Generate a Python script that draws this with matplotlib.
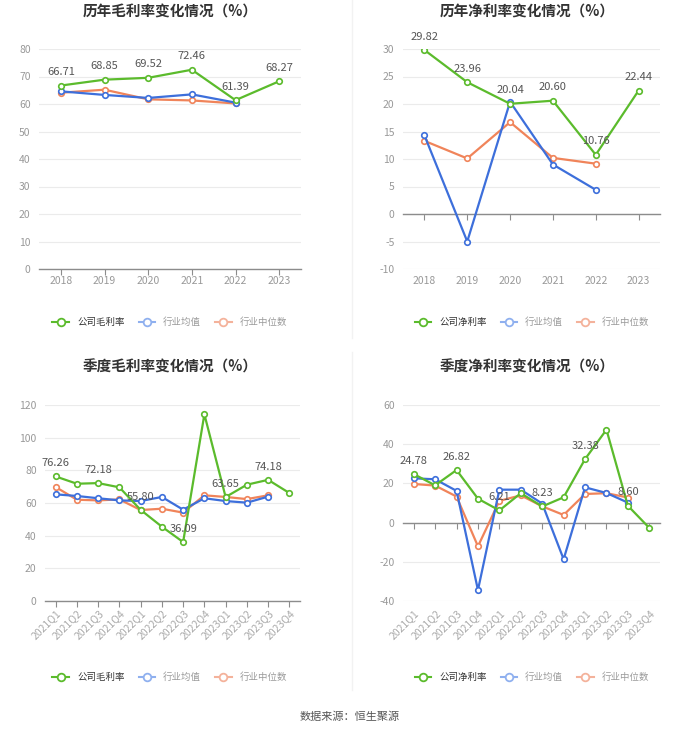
import matplotlib
matplotlib.use("Agg")
import matplotlib.pyplot as plt
from matplotlib.lines import Line2D

plt.rcParams['font.family'] = ['Noto Sans CJK SC', 'DejaVu Sans']

years = ['2018', '2019', '2020', '2021', '2022', '2023']
quarters = ['2021Q1', '2021Q2', '2021Q3', '2021Q4', '2022Q1', '2022Q2', '2022Q3',
            '2022Q4', '2023Q1', '2023Q2', '2023Q3', '2023Q4']

# Annual gross margin
gm_company = [66.71, 68.85, 69.52, 72.46, 61.39, 68.27]
gm_mean = [64.6, 63.3, 62.2, 63.5, 60.5]
gm_median = [64.1, 65.2, 61.7, 61.3, 60.2]

# Annual net margin
nm_company = [29.82, 23.96, 20.04, 20.60, 10.76, 22.44]
nm_mean = [14.3, -5.0, 20.4, 9.0, 4.4]
nm_median = [13.3, 10.1, 16.7, 10.2, 9.15]

# Quarterly gross margin
qgm_company = [76.26, 71.8, 72.18, 69.6, 55.80, 45.5, 36.09, 114.3, 63.65, 71.2, 74.18, 66.1]
qgm_mean = [65.3, 64.3, 62.9, 61.6, 61.2, 63.7, 55.9, 62.9, 61.2, 60.2, 63.9]
qgm_median = [69.8, 62.0, 61.6, 62.2, 55.7, 56.5, 54.1, 64.7, 63.7, 62.4, 64.7]

# Quarterly net margin
qnm_company = [24.78, 19.0, 26.82, 12.2, 6.21, 15.0, 8.23, 12.9, 32.38, 47.4, 8.60, -2.7]
qnm_mean = [22.6, 22.1, 16.2, -34.4, 16.8, 16.8, 9.7, -18.7, 18.0, 15.1, 10.2]
qnm_median = [19.7, 18.9, 13.3, -12.1, 11.1, 13.9, 8.3, 3.9, 14.6, 15.0, 12.8]

GREEN = '#5bbb2c'
BLUE = '#3d6fdb'
ORANGE = '#f0845a'
W, H = 700, 734

fig = plt.figure(figsize=(W / 100, H / 100), dpi=100)
fig.patch.set_facecolor('white')


def add_ax(x0, x1, y0, y1):
    return fig.add_axes([x0 / W, 1 - y1 / H, (x1 - x0) / W, (y1 - y0) / H])


def draw(ax, cats, comp, mean, med, ylim, yticks, label_every, rotate):
    n = len(cats)
    xs = list(range(n))
    ax.set_xlim(-0.5, n - 0.5)
    ax.set_ylim(*ylim)
    ax.set_yticks(yticks)
    ax.set_yticklabels([str(t) for t in yticks])
    ax.grid(axis='y', color='#ebebeb', linewidth=0.8)
    ax.set_axisbelow(True)
    for s in ['left', 'right', 'top']:
        ax.spines[s].set_visible(False)
    ax.spines['bottom'].set_position(('data', 0))
    ax.spines['bottom'].set_color('#8c8c8c')
    ax.spines['bottom'].set_linewidth(1.0)
    ax.tick_params(axis='y', length=0, labelsize=7.5, labelcolor='#999999', pad=6)
    ax.set_xticks(xs)
    ax.tick_params(axis='x', length=4, color='#8c8c8c', labelbottom=False)
    sec = ax.secondary_xaxis('bottom')
    sec.set_xticks(xs)
    sec.spines['bottom'].set_visible(False)
    if rotate:
        sec.set_xticklabels(cats, rotation=45, ha='right', rotation_mode='anchor')
        sec.tick_params(length=0, labelsize=7.5, labelcolor='#aaaaaa', pad=5)
    else:
        sec.set_xticklabels(cats)
        sec.tick_params(length=0, labelsize=7.5, labelcolor='#999999', pad=5)
    mk = dict(marker='o', markersize=4, markerfacecolor='white', markeredgewidth=1.2, linewidth=1.6)
    ax.plot(range(len(med)), med, color=ORANGE, markeredgecolor=ORANGE, zorder=3, **mk)
    ax.plot(range(len(mean)), mean, color=BLUE, markeredgecolor=BLUE, zorder=4, **mk)
    ax.plot(xs, comp, color=GREEN, markeredgecolor=GREEN, zorder=5, **mk)
    for i, v in enumerate(comp):
        if i % label_every == 0:
            ax.annotate(f'{v:.2f}', (i, v), xytext=(0, 6), textcoords='offset points',
                        ha='center', va='bottom', fontsize=8, color='#555555', zorder=6)


ax1 = add_ax(39, 301, 49, 269)
draw(ax1, years, gm_company, gm_mean, gm_median, (0, 80), list(range(0, 81, 10)), 1, False)
ax2 = add_ax(403, 660, 49, 269)
draw(ax2, years, nm_company, nm_mean, nm_median, (-10, 30), list(range(-10, 31, 5)), 1, False)
ax3 = add_ax(45, 300, 405, 601)
draw(ax3, quarters, qgm_company, qgm_mean, qgm_median, (0, 120), list(range(0, 121, 20)), 2, True)
ax4 = add_ax(403, 660, 405, 601)
draw(ax4, quarters, qnm_company, qnm_mean, qnm_median, (-40, 60), list(range(-40, 61, 20)), 2, True)

# titles
for x, y, t in [(170, 12, '历年毛利率变化情况（%）'), (527, 12, '历年净利率变化情况（%）'),
                (170, 367, '季度毛利率变化情况（%）'), (527, 367, '季度净利率变化情况（%）')]:
    fig.text(x / W, 1 - y / H, t, ha='center', va='center', fontsize=10.5,
             fontweight='bold', color='#333333')

# dividers
fig.add_artist(Line2D([352 / W, 352 / W], [1 - 0 / H, 1 - 338 / H], color='#f2f2f2', linewidth=1))
fig.add_artist(Line2D([352 / W, 352 / W], [1 - 352 / H, 1 - 690 / H], color='#f2f2f2', linewidth=1))


def legend(cx, cy, first):
    labels = [first, '行业均值', '行业中位数']
    cols = [GREEN, '#8fb0ef', '#f4b29b']
    tcols = ['#333333', '#9a9a9a', '#9a9a9a']
    handles = [Line2D([0], [0], color=c, marker='o', markersize=5.5, markerfacecolor='white',
                      markeredgecolor=c, markeredgewidth=1.3, linewidth=1.5) for c in cols]
    lg = fig.legend(handles, labels, loc='center', bbox_to_anchor=(cx / W, 1 - cy / H),
                    ncol=3, frameon=False, fontsize=6.8, handlelength=1.7,
                    handletextpad=0.9, columnspacing=1.5, borderpad=0, borderaxespad=0)
    for t, c in zip(lg.get_texts(), tcols):
        t.set_color(c)


legend(170, 322, '公司毛利率')
legend(532, 322, '公司净利率')
legend(170, 677, '公司毛利率')
legend(532, 677, '公司净利率')

fig.text(350 / W, 1 - 717 / H, '数据来源：恒生聚源', ha='center', va='center', fontsize=8, color='#555555')

fig.savefig('out.png', dpi=100, facecolor='white')
